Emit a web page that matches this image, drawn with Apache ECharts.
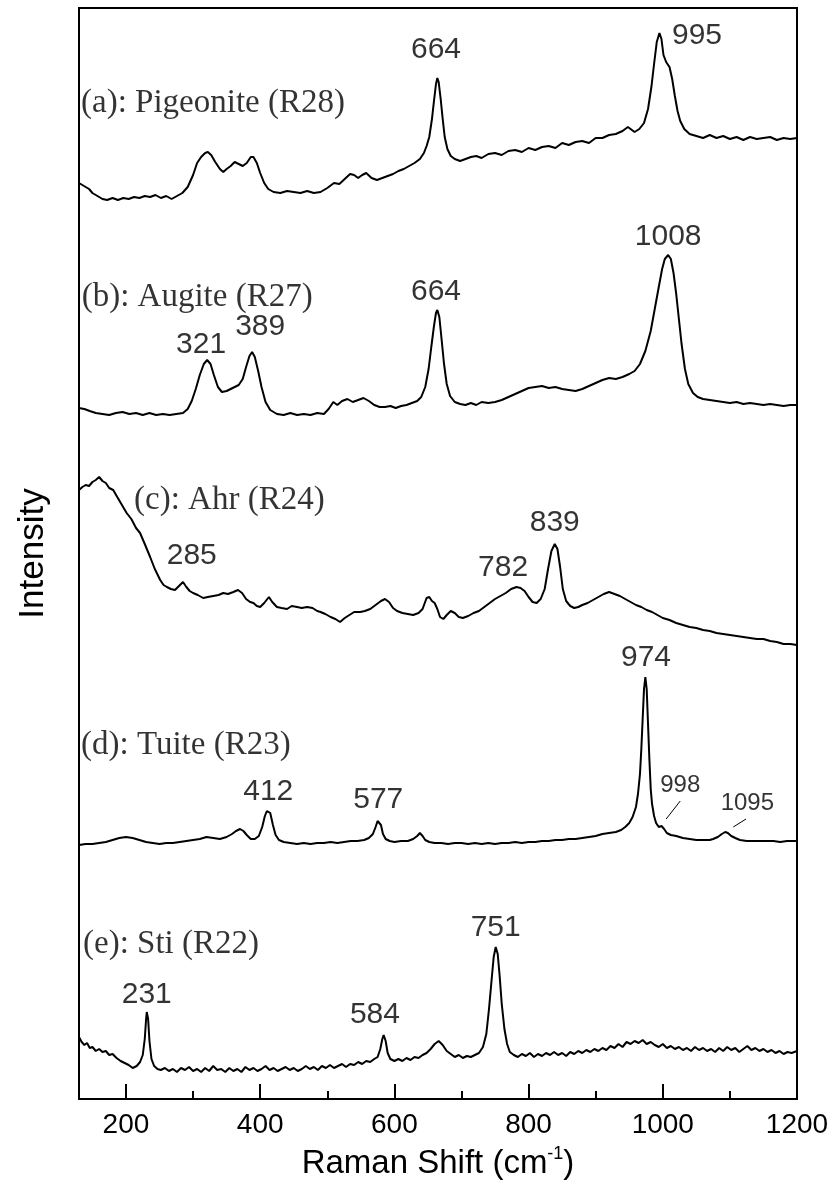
<!DOCTYPE html>
<html>
<head>
<meta charset="utf-8">
<script src="https://cdn.jsdelivr.net/npm/echarts@6/dist/echarts.min.js"></script>
<style>
html,body{margin:0;padding:0;background:#fff;}
#chart{width:832px;height:1194px;}
</style>
</head>
<body>
<div id="chart"></div>
<script>
// Raman spectra, [shift (cm-1), stacked intensity (a.u.)]
const pigeonite = [[130,916],[135,914],[140,912],[145,910],[150,906],[155,904],[160,902],[165,900],[172,899],[180,901],[188,899],[196,901],[204,900],[212,902],[220,901],[228,903],[236,902],[244,904],[252,901],[260,903],[268,900],[276,903],[284,906],[292,912],[300,924],[306,936],[312,942],[318,946],[322,947],[327,944],[333,937],[340,930],[345,927],[350,930],[356,933],[362,937],[368,935],[374,933],[380,936],[386,942],[390,942],[395,936],[400,926],[406,916],[412,910],[420,907],[430,906],[440,908],[450,907],[460,906],[470,908],[480,906],[490,907],[500,911],[510,916],[518,915],[526,920],[534,925],[540,924],[546,921],[552,924],[558,926],[566,921],[574,919],[582,921],[590,923],[598,925],[606,928],[614,930],[622,933],[630,936],[638,940],[644,946],[648,953],[652,962],[656,980],[659,998],[662,1015],[664,1021],[666,1017],[669,1000],[672,980],[675,962],[679,950],[684,943],[690,940],[698,938],[706,940],[714,942],[722,943],[730,941],[740,945],[750,946],[760,944],[770,948],[780,949],[790,947],[800,951],[810,949],[820,952],[830,953],[840,951],[850,956],[860,954],[870,957],[880,958],[890,956],[900,961],[910,961],[920,964],[930,965],[940,968],[948,972],[952,970],[958,967],[965,970],[972,976],[978,990],[983,1012],[987,1035],[991,1057],[995,1066],[998,1060],[1001,1044],[1005,1037],[1010,1032],[1014,1020],[1018,1003],[1022,988],[1026,978],[1032,970],[1040,965],[1050,963],[1060,961],[1070,964],[1080,961],[1090,963],[1100,960],[1110,962],[1120,959],[1130,962],[1140,960],[1150,961],[1160,962],[1170,959],[1180,961],[1190,960],[1200,961]];
const augite = [[130,691],[138,690],[146,688],[155,686],[165,685],[175,684],[185,686],[195,687],[205,685],[215,686],[225,684],[235,686],[245,684],[255,685],[265,684],[275,685],[285,686],[292,690],[298,698],[304,710],[310,724],[316,735],[321,739],[326,735],[331,724],[337,712],[343,707],[350,708],[356,710],[362,712],[368,714],[374,720],[379,732],[384,743],[388,747],[392,742],[397,728],[402,712],[408,697],[415,689],[425,685],[435,684],[445,686],[455,684],[465,685],[475,684],[485,686],[495,685],[502,690],[509,697],[515,694],[522,698],[530,700],[538,697],[546,699],[554,701],[562,698],[570,694],[578,692],[586,692],[594,693],[602,691],[610,693],[618,694],[626,696],[634,698],[640,702],[646,712],[651,730],[655,752],[659,773],[662,786],[664,789],[667,782],[670,762],[674,735],[678,715],[683,703],[690,697],[698,695],[706,694],[714,696],[722,694],[730,697],[740,696],[750,697],[760,699],[770,702],[780,705],[790,708],[800,711],[810,712],[820,713],[830,711],[840,712],[850,710],[860,709],[870,708],[880,710],[890,713],[900,716],[910,719],[920,721],[930,720],[940,722],[950,725],[958,728],[966,735],[974,748],[982,768],[988,790],[994,812],[999,830],[1003,840],[1008,844],[1012,840],[1016,826],[1020,805],[1024,780],[1028,755],[1033,730],[1038,715],[1045,706],[1052,702],[1060,700],[1070,699],[1080,698],[1090,697],[1100,696],[1110,697],[1120,695],[1130,696],[1140,695],[1150,694],[1160,695],[1170,694],[1180,693],[1190,694],[1200,694]];
const ahr = [[130,609],[135,612],[140,614],[145,613],[150,617],[155,619],[160,622],[165,618],[170,616],[175,611],[181,609],[187,602],[194,594],[201,586],[208,580],[215,571],[221,566],[228,555],[236,542],[243,530],[251,519],[256,514],[261,512],[267,510],[273,509],[279,513],[285,517],[290,512],[295,508],[300,506],[307,504],[315,501],[322,502],[330,503],[338,504],[345,506],[352,505],[360,507],[367,509],[373,506],[379,500],[385,497],[390,496],[395,493],[400,492],[406,496],[413,502],[418,497],[425,492],[432,491],[440,490],[447,493],[455,492],[462,491],[470,492],[478,491],[485,488],[490,487],[497,485],[505,482],[512,480],[519,477],[526,481],[533,484],[540,487],[549,487],[556,488],[564,490],[572,494],[580,498],[586,500],[592,497],[598,491],[604,488],[612,486],[620,485],[628,484],[636,486],[642,490],[648,501],[652,502],[656,498],[660,496],[664,490],[668,482],[673,480],[678,484],[684,488],[690,486],[696,482],[702,481],[710,483],[718,486],[726,488],[734,492],[742,496],[750,500],[758,503],[766,506],[774,510],[782,512],[788,511],[794,508],[800,502],[806,497],[812,496],[818,500],[824,510],[829,530],[834,548],[839,555],[843,550],[847,532],[851,510],[856,498],[862,493],[868,491],[874,492],[880,494],[888,496],[896,499],[904,502],[912,505],[920,507],[928,505],[936,503],[944,500],[952,497],[960,494],[968,492],[976,489],[984,487],[992,484],[1000,481],[1010,479],[1020,476],[1030,474],[1040,472],[1050,471],[1060,469],[1070,468],[1080,466],[1090,465],[1100,464],[1110,463],[1120,462],[1130,461],[1140,460],[1150,460],[1160,458],[1170,457],[1180,455],[1190,455],[1200,454]];
const tuite = [[130,254],[140,255],[150,255],[160,256],[170,257],[180,259],[190,261],[200,262],[210,261],[220,259],[230,257],[240,256],[250,255],[260,256],[270,256],[280,257],[290,258],[300,259],[310,260],[320,262],[330,261],[340,260],[350,262],[358,265],[364,268],[370,270],[375,268],[380,264],[386,260],[392,260],[398,263],[403,272],[407,283],[410,288],[412,289],[415,286],[419,274],[423,264],[428,259],[435,257],[445,256],[455,255],[465,256],[475,255],[485,256],[495,256],[505,257],[515,256],[525,257],[535,258],[545,258],[555,259],[562,261],[568,265],[572,272],[575,278],[577,279],[580,274],[583,265],[587,260],[593,258],[600,257],[610,258],[620,258],[628,260],[634,263],[638,266],[642,263],[646,259],[652,257],[660,256],[670,256],[680,255],[690,256],[700,256],[710,255],[720,256],[730,255],[740,256],[750,255],[760,256],[770,256],[780,257],[790,256],[800,257],[810,257],[820,258],[830,258],[840,259],[850,259],[860,260],[870,260],[880,261],[890,262],[900,263],[910,265],[920,266],[930,267],[938,269],[944,272],[950,276],[955,282],[960,292],[963,305],[966,325],[968,350],[970,380],[972,410],[974,422],[976,410],[978,375],[980,340],[982,310],[984,295],[987,283],[990,276],[994,272],[998,273],[1002,270],[1006,266],[1012,264],[1020,263],[1030,261],[1040,260],[1050,259],[1060,259],[1070,259],[1075,260],[1082,262],[1088,265],[1093,267],[1097,266],[1102,263],[1108,261],[1115,259],[1125,258],[1135,258],[1145,258],[1155,258],[1165,258],[1175,257],[1185,258],[1200,258]];
const sti = [[130,62],[134,57],[138,54],[142,56],[146,51],[150,52],[155,48],[160,50],[165,47],[170,48],[175,44],[180,45],[186,41],[192,38],[198,36],[204,34],[210,31],[216,33],[221,37],[225,44],[228,60],[230,80],[231,87],[233,80],[235,58],[238,40],[242,33],[247,30],[252,29],[258,31],[264,28],[270,30],[276,27],[282,31],[288,29],[294,32],[300,28],[306,30],[312,27],[318,31],[324,28],[330,33],[336,29],[342,30],[348,27],[354,31],[360,28],[366,30],[372,27],[378,32],[384,29],[390,31],[396,28],[402,30],[408,33],[414,29],[420,31],[426,28],[432,30],[438,32],[444,29],[450,31],[456,28],[462,30],[468,33],[474,30],[480,32],[486,29],[492,33],[498,31],[504,34],[510,31],[516,33],[522,35],[528,32],[534,35],[540,34],[546,37],[552,35],[558,38],[564,37],[570,40],[575,42],[579,50],[582,60],[584,64],[587,58],[590,46],[594,40],[600,38],[606,40],[612,38],[618,41],[624,39],[630,42],[636,41],[642,44],[648,46],[654,50],[660,55],[666,58],[672,54],[678,48],[684,45],[690,42],[696,44],[702,41],[708,43],[714,42],[720,44],[726,46],[732,52],[737,65],[741,90],[745,120],[748,142],[751,152],[754,145],[757,122],[760,95],[764,70],[768,55],[772,47],[778,44],[784,42],[790,45],[796,43],[802,46],[808,42],[814,45],[820,43],[826,46],[832,44],[838,47],[844,44],[850,46],[856,43],[862,47],[868,45],[874,48],[880,46],[886,49],[892,47],[898,50],[904,48],[910,51],[916,49],[922,53],[928,51],[934,55],[940,52],[946,57],[952,55],[958,58],[964,56],[970,59],[976,55],[982,57],[988,54],[994,52],[1000,55],[1006,51],[1012,53],[1018,50],[1024,52],[1030,49],[1036,51],[1042,48],[1048,52],[1054,49],[1060,51],[1066,48],[1072,50],[1078,47],[1084,51],[1090,48],[1096,52],[1102,49],[1108,51],[1114,47],[1120,50],[1126,53],[1132,49],[1138,51],[1144,48],[1150,50],[1156,47],[1162,49],[1168,46],[1174,48],[1180,45],[1186,47],[1192,46],[1200,48]];

// Peak annotations: [text, x, y]
const peakLabels = [['664',662,1049],['995',1051,1063],['1008',1008,862],['664',662,807],['321',312,754],['389',400,772],['285',298,543],['782',762,531],['839',839,576],['974',975,441],['412',412,307],['577',576,299],['231',231,104],['584',571,84],['751',751,171]];
const smallLabels = [['998',1026,314],['1095',1126,296]];
const leaders = [[[1026,298],[1005,280]],[[1124,280],[1105,272]]];
// Panel names: [text, x, y]
const panelLabels = [['(a): Pigeonite (R28)',133,996],['(b): Augite (R27)',134,802],['(c): Ahr (R24)',212,599],['(d): Tuite (R23)',133,354],['(e): Sti (R22)',136,155]];
const majorTicks = [200,400,600,800,1000,1200];
const minorTicks = [300,500,700,900,1100];

const chart = echarts.init(document.getElementById('chart'), null, {renderer:'canvas'});
const sans = 'Liberation Sans, Arial, sans-serif';
const serif = 'Liberation Serif, Times New Roman, serif';

const lineSeries = [pigeonite, augite, ahr, tuite, sti].map(d => ({
  type:'line', data:d, showSymbol:false, symbol:'none', smooth:false,
  lineStyle:{color:'#000', width:2}, silent:true, z:3
}));
const leaderSeries = leaders.map(d => ({
  type:'line', data:d, showSymbol:false, symbol:'none',
  lineStyle:{color:'#000', width:1}, silent:true, z:3
}));
function labelSeries(arr, style, align){
  return {
    type:'scatter', symbolSize:0, silent:true, z:5,
    data: arr.map(a => ({value:[a[1],a[2]], label:{formatter:a[0]}})),
    label:{show:true, position:'inside', align:align, verticalAlign:'middle', color:'#000', ...style}
  };
}

chart.setOption({
  animation:false,
  backgroundColor:'#fff',
  grid:{left:79, right:35, top:8, bottom:95, show:true, borderColor:'#000', borderWidth:2, backgroundColor:'transparent'},
  xAxis:[{
    type:'value', min:130, max:1200, position:'bottom',
    axisLine:{show:true, lineStyle:{color:'#000', width:2}},
    axisTick:{show:true, inside:true, length:15, lineStyle:{color:'#000', width:2}, customValues:majorTicks},
    axisLabel:{show:true, color:'#000', fontSize:28, fontFamily:sans, margin:12, customValues:majorTicks, formatter: v => String(v)},
    splitLine:{show:false},
    name:'{a|Raman Shift (cm}{b|-1}{a|)}', nameLocation:'middle', nameGap:46,
    nameTextStyle:{rich:{a:{fontSize:33, fontFamily:sans, color:'#000', lineHeight:38}, b:{fontSize:18, fontFamily:sans, color:'#000', lineHeight:38, verticalAlign:'top', padding:[0,0,14,0]}}}
  },{
    type:'value', min:130, max:1200, position:'bottom',
    axisLine:{show:false},
    axisTick:{show:true, inside:true, length:8, lineStyle:{color:'#000', width:2}, customValues:minorTicks},
    axisLabel:{show:false},
    splitLine:{show:false}
  }],
  yAxis:{
    type:'value', min:0, max:1091,
    axisLine:{show:true, lineStyle:{color:'#000', width:2}},
    axisTick:{show:false}, axisLabel:{show:false}, splitLine:{show:false},
    name:'Intensity', nameLocation:'middle', nameRotate:90, nameGap:28,
    nameTextStyle:{fontSize:35, fontFamily:sans, color:'#000'}
  },
  series:[
    ...lineSeries,
    ...leaderSeries,
    labelSeries(peakLabels, {fontSize:30, fontFamily:sans}, 'center'),
    labelSeries(smallLabels, {fontSize:24, fontFamily:sans}, 'center'),
    labelSeries(panelLabels, {fontSize:33, fontFamily:serif}, 'left')
  ]
});
</script>
</body>
</html>
